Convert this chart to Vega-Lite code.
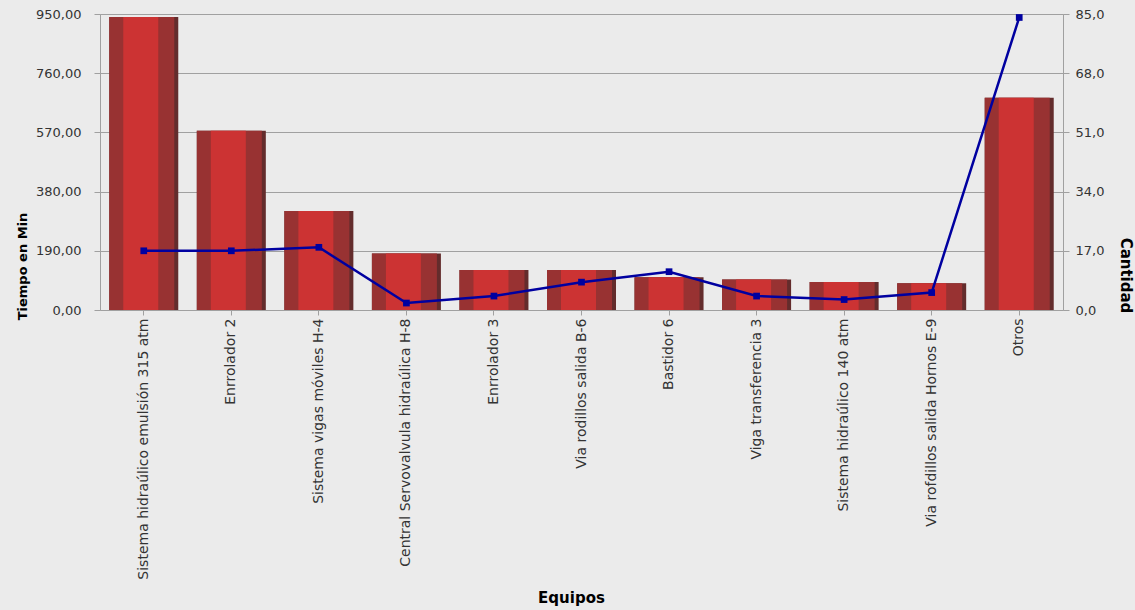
{
  "$schema": "https://vega.github.io/schema/vega-lite/v6.json",
  "width": 963,
  "height": 296,
  "autosize": "none",
  "padding": {"left": 100, "top": 14, "right": 72, "bottom": 300},
  "background": "#EBEBEB",
  "config": {
    "font": "DejaVu Sans",
    "view": {"stroke": "#A0A0A0", "strokeWidth": 1, "fill": "#EBEBEB"},
    "axis": {
      "labelFont": "DejaVu Sans",
      "labelFontSize": 13,
      "labelColor": "#333333",
      "titleFont": "DejaVu Sans",
      "titleFontSize": 13,
      "titleFontWeight": "bold",
      "titleColor": "#000000",
      "domainColor": "#A0A0A0",
      "tickColor": "#A0A0A0",
      "gridColor": "#A0A0A0",
      "gridOpacity": 1
    }
  },
  "data": {
    "values": [
      {"equipo": "Sistema hidraúlico emulsión 315 atm", "tiempo": 940, "cantidad": 17},
      {"equipo": "Enrrolador 2", "tiempo": 575, "cantidad": 17},
      {"equipo": "Sistema vigas móviles H-4", "tiempo": 318, "cantidad": 18},
      {"equipo": "Central Servovalvula hidraúlica H-8", "tiempo": 181, "cantidad": 2},
      {"equipo": "Enrrolador 3", "tiempo": 128, "cantidad": 4},
      {"equipo": "Via rodillos salida B-6", "tiempo": 128, "cantidad": 8},
      {"equipo": "Bastidor 6", "tiempo": 105, "cantidad": 11},
      {"equipo": "Viga transferencia 3", "tiempo": 98, "cantidad": 4},
      {"equipo": "Sistema hidraúlico 140 atm", "tiempo": 90, "cantidad": 3},
      {"equipo": "Via rofdillos salida Hornos E-9", "tiempo": 86, "cantidad": 5},
      {"equipo": "Otros", "tiempo": 681, "cantidad": 84}
    ]
  },
  "encoding": {
    "x": {
      "field": "equipo",
      "type": "nominal",
      "sort": null,
      "scale": {"paddingInner": 0.2, "paddingOuter": 0.1},
      "axis": {
        "title": "Equipos",
        "titleFontSize": 15,
        "labelFontSize": 14,
        "labelAngle": -90,
        "labelAlign": "right",
        "labelBaseline": "middle",
        "labelLimit": 0,
        "labelPadding": 3,
        "tickSize": 5,
        "domain": false,
        "titleX": 471,
        "titleY": 287,
        "titleAlign": "center",
        "titleBaseline": "middle"
      }
    }
  },
  "layer": [
    {
      "encoding": {
        "y": {
          "field": "tiempo",
          "type": "quantitative",
          "scale": {"domain": [0, 950], "nice": false},
          "axis": {
            "orient": "left",
            "title": "Tiempo en Min",
            "values": [0, 190, 380, 570, 760, 950],
            "labelExpr": "replace(format(datum.value, '.2f'), '.', ',')",
            "grid": true,
            "tickSize": 6,
            "labelPadding": 13,
            "domain": false,
            "titleAngle": -90,
            "titleX": -78,
            "titleY": 252,
            "titleAlign": "center",
            "titleBaseline": "middle"
          }
        }
      },
      "layer": [
        {"mark": {"type": "bar", "width": 69, "color": "#632C2C"}},
        {"mark": {"type": "bar", "width": 65, "xOffset": -2, "color": "#983232"}},
        {"mark": {"type": "bar", "width": 35, "xOffset": -3, "color": "#CC3333"}}
      ]
    },
    {
      "encoding": {
        "y": {
          "field": "cantidad",
          "type": "quantitative",
          "scale": {"domain": [0, 85], "nice": false},
          "axis": {
            "orient": "right",
            "title": "Cantidad",
            "titleFontSize": 15,
            "values": [0, 17, 34, 51, 68, 85],
            "labelExpr": "replace(format(datum.value, '.1f'), '.', ',')",
            "grid": false,
            "tickSize": 6,
            "labelPadding": 6,
            "domain": false,
            "titleAngle": 90,
            "titleX": 62,
            "titleY": 261,
            "titleAlign": "center",
            "titleBaseline": "middle"
          }
        }
      },
      "layer": [
        {"mark": {"type": "line", "color": "#0000A0", "strokeWidth": 2.5}},
        {"mark": {"type": "square", "color": "#0000A0", "size": 45, "opacity": 1, "filled": true}}
      ]
    }
  ],
  "resolve": {"scale": {"y": "independent"}}
}
